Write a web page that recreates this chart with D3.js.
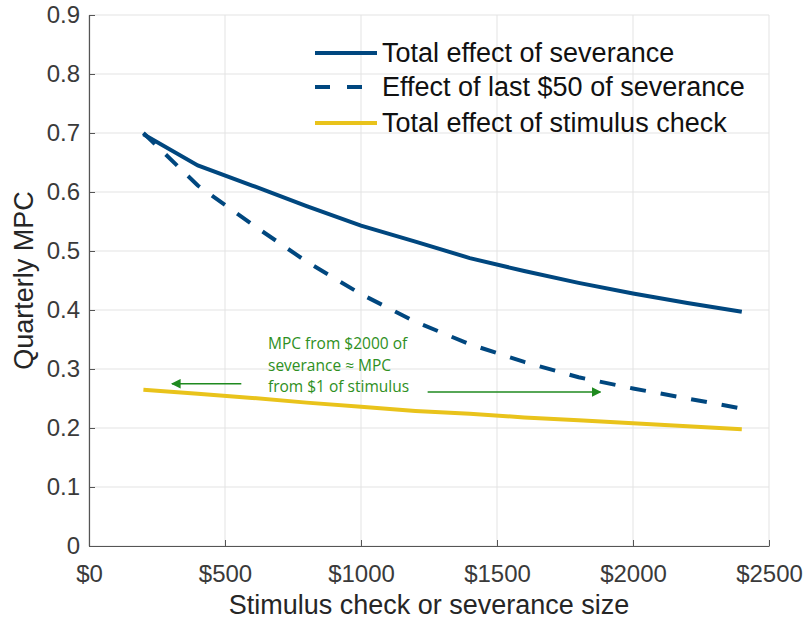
<!DOCTYPE html>
<html>
<head>
    <meta charset="utf-8">
    <title>Quarterly MPC</title>
    <script src="https://cdn.jsdelivr.net/npm/d3@7"></script>
    <style>
        body { margin: 0; background: white; }
        text { font-family: "Liberation Sans", Arial, sans-serif; }
    </style>
</head>
<body>
<script>
    // chart data
    var sizes = [200, 400, 600, 800, 1000, 1200, 1400, 1600, 1800, 2000, 2200, 2400];
    var totalSeverance = [0.698, 0.645, 0.611, 0.576, 0.543, 0.516, 0.488, 0.466, 0.446, 0.428, 0.412, 0.397];
    var lastFifty = [0.700, 0.611, 0.545, 0.482, 0.427, 0.380, 0.342, 0.312, 0.286, 0.267, 0.250, 0.233];
    var stimulus = [0.265, 0.258, 0.251, 0.243, 0.236, 0.229, 0.224, 0.218, 0.213, 0.208, 0.203, 0.198];
    var xTicks = [0, 500, 1000, 1500, 2000, 2500];
    var yTicks = [0, 0.1, 0.2, 0.3, 0.4, 0.5, 0.6, 0.7, 0.8, 0.9];
    var seriesNames = ['Total effect of severance', 'Effect of last $50 of severance', 'Total effect of stimulus check'];
    var noteLines = ['MPC from $2000 of', 'severance \u2248 MPC', 'from $1 of stimulus'];

    var width = 807, height = 623;
    // plot box (note: "top" is taken by window.top, so prefix them)
    var plotLeft = 89, plotRight = 769, plotTop = 15, plotBottom = 546;
    var blue = '#00477f', yellow = '#e9c31b', green = '#1f8a1f';

    var svg = d3.select('body').append('svg')
        .attr('width', width)
        .attr('height', height);

    var x = d3.scaleLinear().domain([0, 2500]).range([plotLeft, plotRight]);
    var y = d3.scaleLinear().domain([0, 0.9]).range([plotBottom, plotTop]);

    // grid
    svg.append('g').selectAll('line').data(xTicks).enter().append('line')
        .attr('x1', function(d) { return x(d); }).attr('x2', function(d) { return x(d); })
        .attr('y1', plotTop).attr('y2', plotBottom)
        .attr('stroke', '#e3e3e3').attr('stroke-width', 1);
    svg.append('g').selectAll('line').data(yTicks).enter().append('line')
        .attr('y1', function(d) { return y(d); }).attr('y2', function(d) { return y(d); })
        .attr('x1', plotLeft).attr('x2', plotRight)
        .attr('stroke', '#e3e3e3').attr('stroke-width', 1);

    // axes, ticks point inwards like matlab
    var xAxis = d3.axisBottom(x).tickValues(xTicks).tickSizeInner(-6).tickSizeOuter(0)
        .tickPadding(19).tickFormat(function(d) { return '$' + d; });
    var yAxis = d3.axisLeft(y).tickValues(yTicks).tickSizeInner(-6).tickSizeOuter(0)
        .tickPadding(9).tickFormat(function(d) { return d === 0 ? '0' : d3.format('.1f')(d); });

    var gx = svg.append('g').attr('transform', 'translate(0,' + plotBottom + ')').call(xAxis);
    var gy = svg.append('g').attr('transform', 'translate(' + plotLeft + ',0)').call(yAxis);
    [gx, gy].forEach(function(g) {
        g.select('.domain').attr('stroke', '#555').attr('stroke-width', 1.2);
        g.selectAll('.tick line').attr('stroke', '#555');
        g.selectAll('.tick text').attr('fill', '#3a3a3a')
            .style('font-size', '24px')
            .style('font-family', '"Liberation Sans", Arial, sans-serif');
    });

    // lines
    var line = d3.line()
        .x(function(d) { return x(d[0]); })
        .y(function(d) { return y(d[1]); });

    function pairs(vals) {
        return sizes.map(function(s, i) { return [s, vals[i]]; });
    }

    svg.append('path').datum(pairs(stimulus)).attr('d', line)
        .attr('fill', 'none').attr('stroke', yellow).attr('stroke-width', 4);
    svg.append('path').datum(pairs(lastFifty)).attr('d', line)
        .attr('fill', 'none').attr('stroke', blue).attr('stroke-width', 4)
        .attr('stroke-dasharray', '16,15');
    svg.append('path').datum(pairs(totalSeverance)).attr('d', line)
        .attr('fill', 'none').attr('stroke', blue).attr('stroke-width', 4);

    // legend
    var legendRows = [53, 87, 123];
    var legendStyles = [
        { color: blue, dash: null },
        { color: blue, dash: '15,17' },
        { color: yellow, dash: null }
    ];
    var legend = svg.append('g').selectAll('g').data(seriesNames).enter().append('g')
        .attr('transform', function(d, i) { return 'translate(0,' + legendRows[i] + ')'; });
    legend.append('line')
        .attr('x1', 315).attr('x2', 377).attr('y1', 0).attr('y2', 0)
        .attr('stroke', function(d, i) { return legendStyles[i].color; })
        .attr('stroke-width', 4)
        .attr('stroke-dasharray', function(d, i) { return legendStyles[i].dash; });
    legend.append('text')
        .attr('x', 382).attr('y', 9)
        .style('font-size', '27px')
        .attr('fill', '#111')
        .text(function(d) { return d; });

    // annotation
    var defs = svg.append('defs');
    defs.append('marker').attr('id', 'arrow')
        .attr('viewBox', '0 0 10 10').attr('refX', 9).attr('refY', 5)
        .attr('markerWidth', 6).attr('markerHeight', 6)
        .attr('orient', 'auto')
        .append('path').attr('d', 'M0,0 L10,5 L0,10 z').attr('fill', green);

    svg.append('line')
        .attr('x1', x(560)).attr('x2', x(305))
        .attr('y1', y(0.275)).attr('y2', y(0.275))
        .attr('stroke', green).attr('stroke-width', 1.6)
        .attr('marker-end', 'url(#arrow)');
    svg.append('line')
        .attr('x1', x(1245)).attr('x2', x(1880))
        .attr('y1', y(0.261)).attr('y2', y(0.261))
        .attr('stroke', green).attr('stroke-width', 1.6)
        .attr('marker-end', 'url(#arrow)');

    svg.append('g').selectAll('text').data(noteLines).enter().append('text')
        .attr('x', 268)
        .attr('y', function(d, i) { return 349 + i * 21.5; })
        .style('font-family', '"Open Sans", "Noto Sans", sans-serif')
        .style('font-size', '15.5px')
        .attr('fill', '#2e8f22')
        .text(function(d) { return d; });

    // axis titles
    svg.append('text')
        .attr('x', (plotLeft + plotRight) / 2).attr('y', 614)
        .attr('text-anchor', 'middle')
        .style('font-size', '27px').attr('fill', '#262626')
        .text('Stimulus check or severance size');
    svg.append('text')
        .attr('transform', 'translate(33,' + ((plotTop + plotBottom) / 2) + ') rotate(-90)')
        .attr('text-anchor', 'middle')
        .style('font-size', '27px').attr('fill', '#262626')
        .text('Quarterly MPC');
</script>
</body>
</html>
